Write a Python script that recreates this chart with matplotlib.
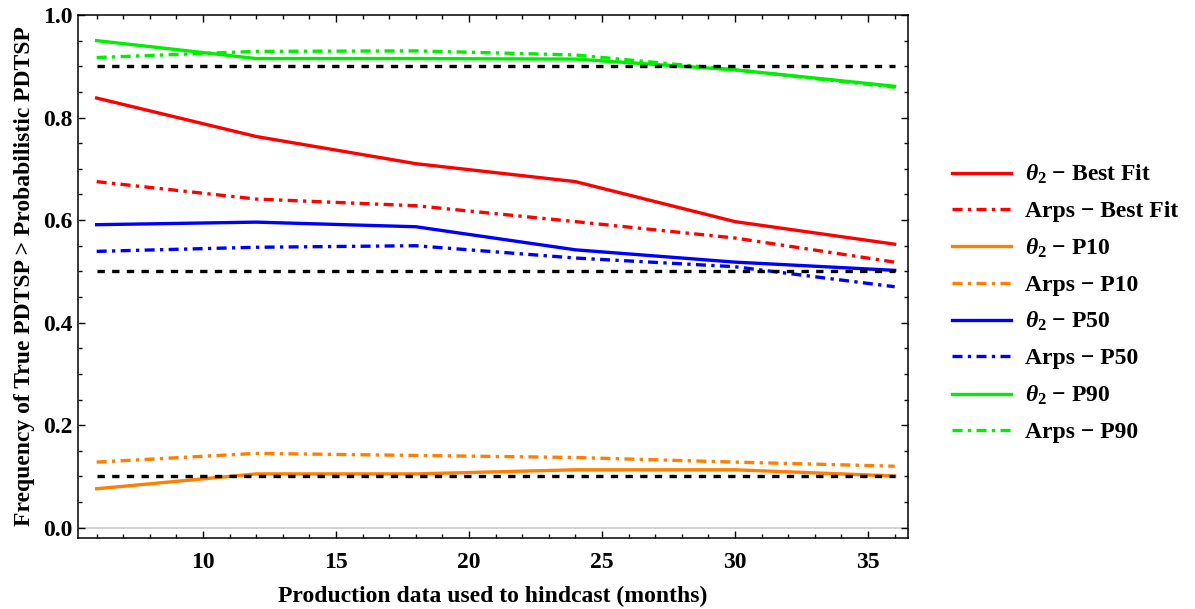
import matplotlib.pyplot as plt
from matplotlib.ticker import MultipleLocator, FormatStrFormatter

plt.rcParams['font.family'] = ['Liberation Serif', 'DejaVu Serif']
plt.rcParams['font.weight'] = 'bold'
plt.rcParams['mathtext.fontset'] = 'custom'
plt.rcParams['mathtext.rm'] = 'Liberation Serif:bold'
plt.rcParams['mathtext.it'] = 'Liberation Serif:italic:bold'
plt.rcParams['mathtext.bf'] = 'Liberation Serif:bold'

# months of production data used for the hindcast
months = [6, 12, 18, 24, 30, 36]

# frequency of true PDTSP above the probabilistic PDTSP
theta_best = [0.838, 0.763, 0.710, 0.675, 0.597, 0.553]
arps_best = [0.675, 0.641, 0.628, 0.597, 0.565, 0.518]
theta_p10 = [0.076, 0.105, 0.105, 0.113, 0.113, 0.101]
arps_p10 = [0.128, 0.145, 0.141, 0.137, 0.128, 0.120]
theta_p50 = [0.591, 0.596, 0.587, 0.542, 0.518, 0.502]
arps_p50 = [0.539, 0.547, 0.550, 0.526, 0.509, 0.470]
theta_p90 = [0.950, 0.915, 0.915, 0.914, 0.893, 0.861]
arps_p90 = [0.917, 0.929, 0.930, 0.922, 0.893, 0.859]

# nominal exceedance levels for P90, P50, P10
reference_levels = [0.9, 0.5, 0.1]

series = [
    (theta_best, r'$\theta_2$ − Best Fit', '#ff0000', '-'),
    (arps_best, 'Arps − Best Fit', '#ff0000', 'dashdot'),
    (theta_p10, r'$\theta_2$ − P10', '#ff7f00', '-'),
    (arps_p10, 'Arps − P10', '#ff7f00', 'dashdot'),
    (theta_p50, r'$\theta_2$ − P50', '#0000ff', '-'),
    (arps_p50, 'Arps − P50', '#0000ff', 'dashdot'),
    (theta_p90, r'$\theta_2$ − P90', '#00ee00', '-'),
    (arps_p90, 'Arps − P90', '#00ee00', 'dashdot'),
]

fig = plt.figure(figsize=(11.95, 6.09), dpi=100)
ax = fig.add_axes([0.0653, 0.1166, 0.6945, 0.8588])

ax.axhline(0, color='#cccccc', lw=1.2, zorder=1)

for vals, label, color, style in series:
    ls = '-' if style == '-' else (0, (3, 1.6, 1, 1.6))
    ax.plot(months, vals, color=color, lw=2.4, ls=ls, label=label, zorder=2)

for lvl in reference_levels:
    ax.plot([months[0], months[-1]], [lvl, lvl], color='black', lw=2.4,
            ls=(0, (2.2, 2.2)), zorder=3)

ax.set_xlim(5.3, 36.5)
ax.set_ylim(-0.02, 1.0)
ax.xaxis.set_major_locator(MultipleLocator(5))
ax.xaxis.set_minor_locator(MultipleLocator(1))
ax.yaxis.set_major_locator(MultipleLocator(0.2))
ax.yaxis.set_minor_locator(MultipleLocator(0.05))
ax.yaxis.set_major_formatter(FormatStrFormatter('%.1f'))

ax.tick_params(which='both', direction='in', top=True, right=True,
               labelsize=17, width=1)
ax.tick_params(which='major', length=5)
ax.tick_params(which='minor', length=3)
ax.tick_params(axis='x', pad=10)
ax.tick_params(axis='y', pad=4)
for lab in ax.get_xticklabels() + ax.get_yticklabels():
    lab.set_fontweight('bold')
for sp in ax.spines.values():
    sp.set_linewidth(1.1)

ax.set_xlabel('Production data used to hindcast (months)', fontsize=17,
              fontweight='bold', labelpad=9)
ax.set_ylabel('Frequency of True PDTSP > Probabilistic PDTSP', fontsize=17,
              fontweight='bold', labelpad=6)

handles, labels = ax.get_legend_handles_labels()
fig.legend(handles, labels, loc='center left', bbox_to_anchor=(0.779, 0.5025),
           frameon=False, fontsize=17, handlelength=2.5, handletextpad=0.6,
           labelspacing=0.61)

fig.savefig('out.png', dpi=100)
